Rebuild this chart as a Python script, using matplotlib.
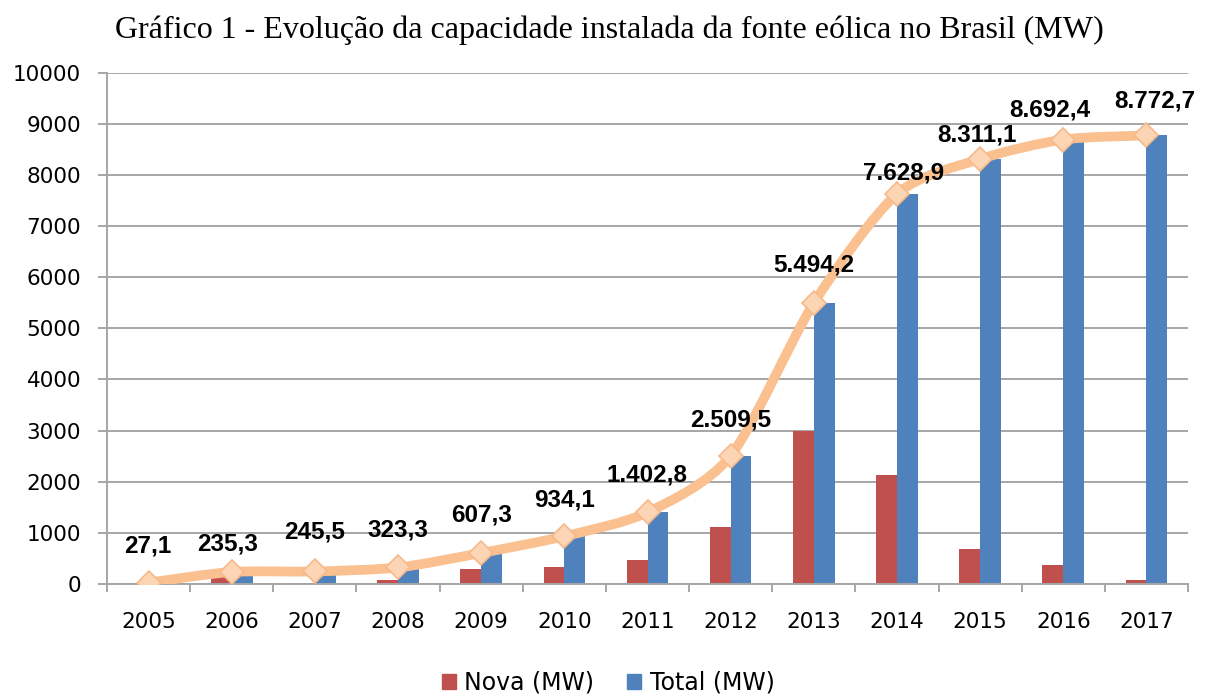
import numpy as np
import matplotlib
matplotlib.use('Agg')
import matplotlib.pyplot as plt
from matplotlib.path import Path
from matplotlib.patches import PathPatch, Patch

years = ['2005', '2006', '2007', '2008', '2009', '2010', '2011',
         '2012', '2013', '2014', '2015', '2016', '2017']
nova = [27.1, 208.2, 10.2, 77.8, 284.0, 326.8, 468.7,
        1106.7, 2984.7, 2134.7, 682.2, 381.3, 80.3]
total = [27.1, 235.3, 245.5, 323.3, 607.3, 934.1, 1402.8,
         2509.5, 5494.2, 7628.9, 8311.1, 8692.4, 8772.7]

RED = '#c0504d'
BLUE = '#4f81bd'
LINE = '#fac090'
GRID = '#a6a6a6'


def br_format(v):
    # 1,402.8 -> 1.402,8
    s = '{:,.1f}'.format(v)
    return s.replace(',', '#').replace('.', ',').replace('#', '.')


def smooth_path(xs, ys, k=7.5):
    # cubic bezier through the points (like Excel's smoothed line)
    pts = np.column_stack([xs, ys])
    n = len(pts)
    verts = [pts[0]]
    codes = [Path.MOVETO]
    for i in range(n - 1):
        p0 = pts[max(i - 1, 0)]
        p1 = pts[i]
        p2 = pts[i + 1]
        p3 = pts[min(i + 2, n - 1)]
        c1 = p1 + (p2 - p0) / k
        c2 = p2 - (p3 - p1) / k
        verts += [c1, c2, p2]
        codes += [Path.CURVE4] * 3
    return Path(verts, codes)


fig = plt.figure(figsize=(12.09, 6.95), dpi=100)
ax = fig.add_axes([107 / 1209, 1 - 584 / 695, 1081 / 1209, (584 - 72.7) / 695])

x = np.arange(len(years))
w = 0.25
ax.bar(x - w / 2, nova, w, color=RED, zorder=2, label='Nova (MW)')
ax.bar(x + w / 2, total, w, color=BLUE, zorder=2, label='Total (MW)')

ax.add_patch(PathPatch(smooth_path(x, total), facecolor='none', edgecolor=LINE,
                       lw=7, capstyle='round', joinstyle='round', zorder=3))
ax.plot(x, total, 'D', ms=12, mfc='#fcd5b4', mec='#f7b98a', mew=1.2, zorder=4)

# label nudges in pixels (dx, dy above the point)
nudges = [(-1, 37), (-4, 28), (0, 39), (0, 37), (0, 38), (0, 36), (0, 37),
          (0, 36), (0, 38), (7, 21), (-3, 24), (-13, 30), (8, 34)]
for xi, v, (dx, dy) in zip(x, total, nudges):
    ax.annotate(br_format(v), (xi, v), xytext=(dx, dy), textcoords='offset pixels',
                ha='center', va='center', fontsize=17.5, fontweight='bold',
                family='Liberation Sans', zorder=5)

ax.set_xlim(-0.5, len(years) - 0.5)
ax.set_ylim(0, 10000)
ax.set_yticks(np.arange(0, 10001, 1000))
ax.set_xticks(x)
ax.set_xticklabels(years)
ax.set_xticks(np.arange(-0.5, len(years)), minor=True)

ax.grid(axis='y', color=GRID, lw=1.4, zorder=0)
ax.set_axisbelow(True)
for side in ['top', 'right']:
    ax.spines[side].set_visible(False)
for side in ['left', 'bottom']:
    ax.spines[side].set_color(GRID)
    ax.spines[side].set_linewidth(1.4)

ax.tick_params(axis='y', length=6.5, width=1.4, color=GRID, pad=12, labelsize=15.5)
ax.tick_params(axis='x', which='major', length=0, pad=20, labelsize=15.5)
ax.tick_params(axis='x', which='minor', length=6, width=1.4, color=GRID)

fig.text(0.504, 0.957, 'Gráfico 1 - Evolução da capacidade instalada da fonte eólica no Brasil (MW)',
         ha='center', va='center', fontsize=23, family='Liberation Serif')

handles = [Patch(color=RED, label='Nova (MW)'), Patch(color=BLUE, label='Total (MW)')]
fig.legend(handles=handles, loc='lower center', bbox_to_anchor=(0.503, -0.03), ncol=2,
           frameon=False, fontsize=17, handlelength=0.6, handleheight=0.6,
           handletextpad=0.35, columnspacing=1.4)

fig.savefig('out.png', dpi=100)
